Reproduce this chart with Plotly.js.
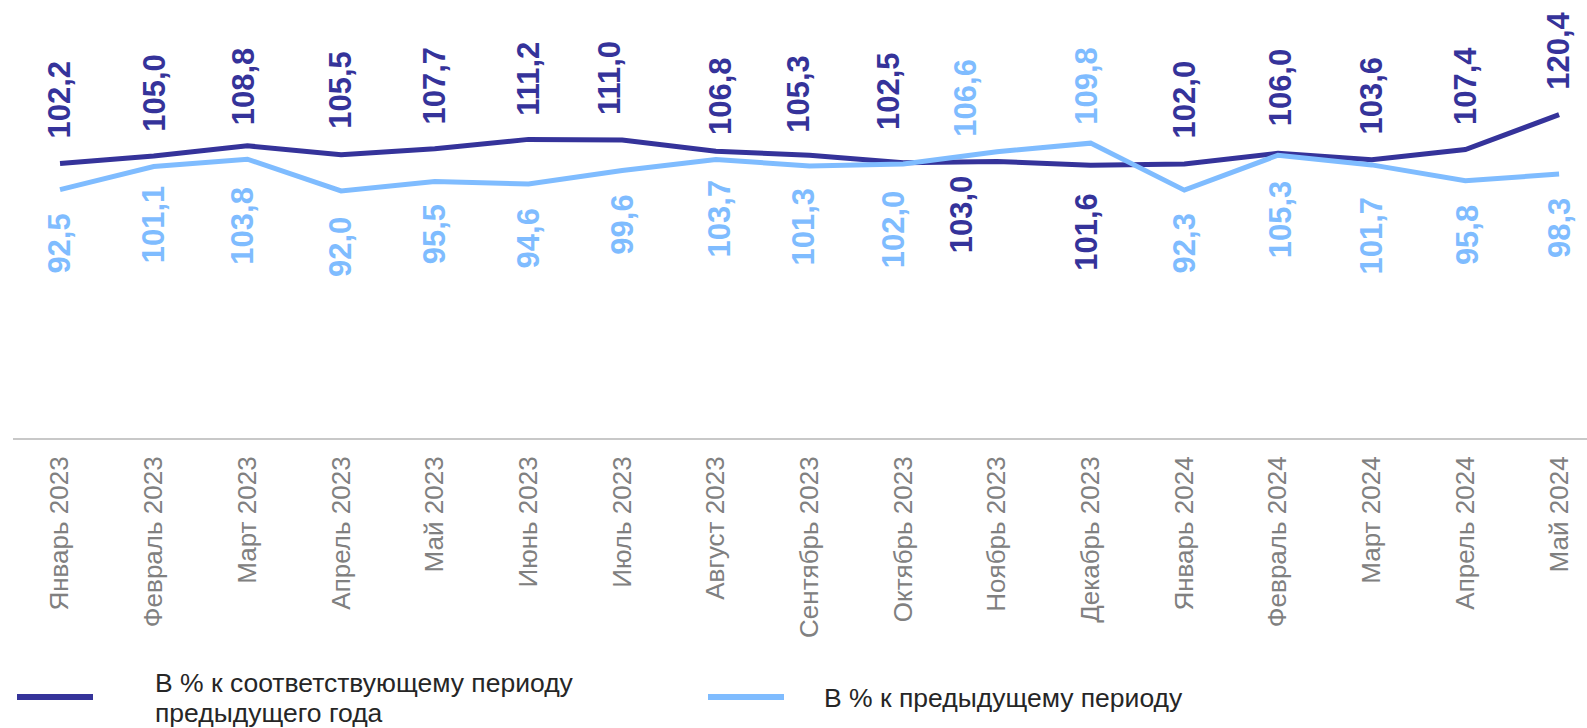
<!DOCTYPE html>
<html>
<head>
<meta charset="utf-8">
<script src="https://cdn.plot.ly/plotly-3.0.1.min.js"></script>
<style>
  html, body { margin: 0; padding: 0; background: #ffffff; }
  #chart { width: 1587px; height: 728px; }
</style>
</head>
<body>
<div id="chart"></div>
<script>
// ---- data ----
const categories = ['Январь 2023', 'Февраль 2023', 'Март 2023', 'Апрель 2023', 'Май 2023', 'Июнь 2023',
  'Июль 2023', 'Август 2023', 'Сентябрь 2023', 'Октябрь 2023', 'Ноябрь 2023', 'Декабрь 2023',
  'Январь 2024', 'Февраль 2024', 'Март 2024', 'Апрель 2024', 'Май 2024'];
const yoyValues = [102.2, 105.0, 108.8, 105.5, 107.7, 111.2, 111.0, 106.8, 105.3, 102.5, 103.0, 101.6,
  102.0, 106.0, 103.6, 107.4, 120.4];
const momValues = [92.5, 101.1, 103.8, 92.0, 95.5, 94.6, 99.6, 103.7, 101.3, 102.0, 106.6, 109.8,
  92.3, 105.3, 101.7, 95.8, 98.3];
const yoyName = 'В % к соответствующему периоду предыдущего года';
const yoyLegendLines = ['В % к соответствующему периоду', 'предыдущего года'];
const momName = 'В % к предыдущему периоду';

// ---- styling / label placement (not data) ----
const DARK = '#35339a';
const LIGHT = '#7fbcff';
const FONT = 'Liberation Sans, Arial, sans-serif';
const W = 1587, H = 728;
const M = {l: 13, r: 0, t: 0, b: 290};
// label side: +1 above the point, -1 below
const yoySide = [1,1,1,1,1,1,1,1,1,1,-1,-1,1,1,1,1,1];
const momSide = [-1,-1,-1,-1,-1,-1,-1,-1,-1,-1,1,1,-1,-1,-1,-1,-1];
// label gaps (px) from point and horizontal nudges (px)
const yoyGap = [25,24,21,26,24,24,25,16,22,33,14,28,26,27,25,25,25];
const momGap = [24,19,27,26,23,24,24,20,22,26,15,18,23,25,32,24,24];
const yoyDx = [0,0,-4,0,0,0,-12,4,-11,-15,-36,-4,0,2,0,0,0];
const momDx = [0,0,-5,0,0,0,0,4,-6,-10,-31,-4,0,2,0,2,0];

const fmt = v => v.toFixed(1).replace('.', ',');

const traces = [
  {x: categories, y: yoyValues, type: 'scatter', mode: 'lines', name: yoyName,
   line: {color: DARK, width: 5}, hoverinfo: 'skip', showlegend: false},
  {x: categories, y: momValues, type: 'scatter', mode: 'lines', name: momName,
   line: {color: LIGHT, width: 5}, hoverinfo: 'skip', showlegend: false}
];

const annotations = [];
function addLabels(vals, side, gap, dx, color) {
  vals.forEach((v, i) => {
    const up = side[i] > 0;
    annotations.push({
      x: categories[i], y: v, xref: 'x', yref: 'y',
      text: fmt(v), showarrow: false, textangle: -90,
      xanchor: 'center', yanchor: up ? 'bottom' : 'top',
      yshift: (up ? 1 : -1) * (gap[i] - 2), xshift: dx[i],
      font: {family: FONT, size: 31, color: color, weight: 'bold'}
    });
  });
}
addLabels(yoyValues, yoySide, yoyGap, yoyDx, DARK);
addLabels(momValues, momSide, momGap, momDx, LIGHT);

// legend drawn in pixel space converted to paper coords
const plotW = W - M.l - M.r, plotH = H - M.t - M.b;
const px = p => (p - M.l) / plotW;
const py = p => (H - M.b - p) / plotH;
const legendFont = {family: FONT, size: 26.5, color: '#262626'};
annotations.push(
  {xref: 'paper', yref: 'paper', x: px(153), y: py(683), text: yoyLegendLines[0], showarrow: false,
   xanchor: 'left', yanchor: 'middle', font: legendFont},
  {xref: 'paper', yref: 'paper', x: px(153), y: py(713), text: yoyLegendLines[1], showarrow: false,
   xanchor: 'left', yanchor: 'middle', font: legendFont},
  {xref: 'paper', yref: 'paper', x: px(822), y: py(698), text: momName, showarrow: false,
   xanchor: 'left', yanchor: 'middle', font: legendFont}
);
const shapes = [
  {type: 'line', xref: 'paper', yref: 'paper', x0: px(17), x1: px(93), y0: py(697), y1: py(697),
   line: {color: DARK, width: 6}},
  {type: 'line', xref: 'paper', yref: 'paper', x0: px(708), x1: px(784), y0: py(697), y1: py(697),
   line: {color: LIGHT, width: 6}}
];

const layout = {
  width: W, height: H,
  margin: M,
  paper_bgcolor: '#ffffff', plot_bgcolor: '#ffffff',
  showlegend: false,
  xaxis: {
    type: 'category', range: [-0.502, 16.298],
    showgrid: false, zeroline: false,
    showline: true, linecolor: '#c8c8c8', linewidth: 2,
    ticks: '', tickangle: -90, ticklabelstandoff: 6,
    tickfont: {family: FONT, size: 26, color: '#808080'},
    fixedrange: true
  },
  yaxis: {
    range: [0, 163.1], visible: false, showgrid: false, zeroline: false, fixedrange: true
  },
  annotations: annotations,
  shapes: shapes
};

Plotly.newPlot('chart', traces, layout, {displayModeBar: false, staticPlot: true});
</script>
</body>
</html>
